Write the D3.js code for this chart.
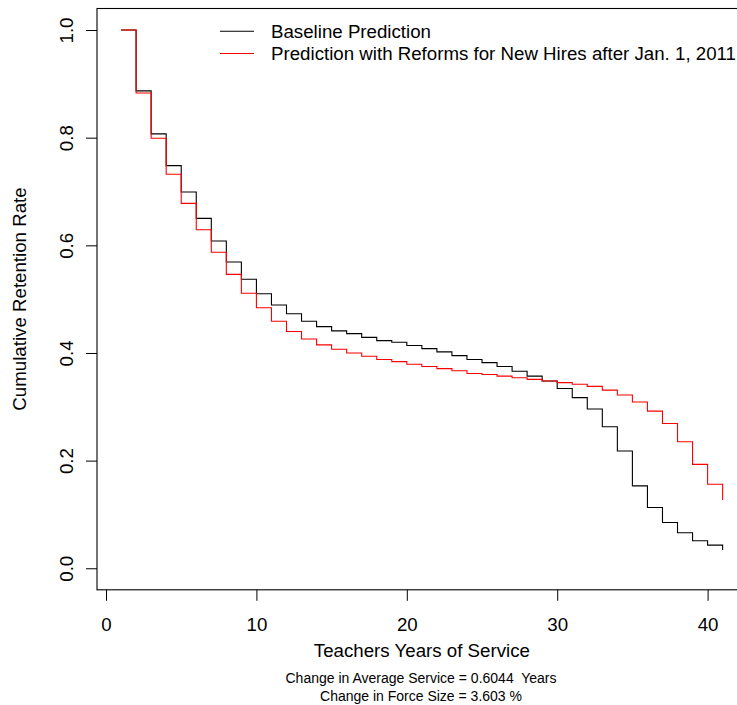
<!DOCTYPE html>
<html>
<head>
<meta charset="utf-8">
<script src="https://cdn.jsdelivr.net/npm/d3@7"></script>
<style>
  body { margin: 0; background: #fff; }
  svg { display: block; font-family: "Liberation Sans", Arial, sans-serif; }
</style>
</head>
<body>
<script>
// Chart data
const years = [1, 2, 3, 4, 5, 6, 7, 8, 9, 10, 11, 12, 13, 14, 15, 16, 17, 18, 19, 20,
  21, 22, 23, 24, 25, 26, 27, 28, 29, 30, 31, 32, 33, 34, 35, 36, 37, 38, 39, 40, 41];
const baseline = [1.000, 0.887, 0.807, 0.748, 0.699, 0.650, 0.608, 0.569, 0.537, 0.510,
  0.489, 0.473, 0.459, 0.449, 0.441, 0.436, 0.429, 0.423, 0.420, 0.414,
  0.408, 0.402, 0.395, 0.388, 0.382, 0.375, 0.366, 0.357, 0.348, 0.334,
  0.317, 0.296, 0.263, 0.218, 0.153, 0.113, 0.085, 0.066, 0.051, 0.043, 0.034];
const reform = [1.000, 0.883, 0.799, 0.732, 0.678, 0.629, 0.587, 0.546, 0.511, 0.484,
  0.459, 0.440, 0.426, 0.415, 0.407, 0.400, 0.394, 0.388, 0.384, 0.379,
  0.375, 0.371, 0.367, 0.362, 0.360, 0.357, 0.354, 0.351, 0.348, 0.345,
  0.342, 0.338, 0.331, 0.322, 0.309, 0.292, 0.269, 0.235, 0.193, 0.156, 0.127];
const xTicks = [0, 10, 20, 30, 40];
const yTicks = [0.0, 0.2, 0.4, 0.6, 0.8, 1.0];
const legendLabels = ["Baseline Prediction", "Prediction with Reforms for New Hires after Jan. 1, 2011"];
const seriesColors = ["#000000", "#ff0000"];
const footnotes = ["Change in Average Service = 0.6044\u00a0 Years", "Change in Force Size = 3.603 %"];

const w = 737;
const h = 705;
const fontMain = 18.7;
const fontFoot = 14;

const svg = d3.select('body')
  .append('svg')
  .attr('width', w)
  .attr('height', h);

// R style ranges: data range padded by 4%
const xScale = d3.scaleLinear()
  .domain([-0.6, 42.6])
  .range([97, 746.7]);

const yScale = d3.scaleLinear()
  .domain([-0.04, 1.04])
  .range([589.8, 8.5]);

// Step lines (type = "s")
const line = d3.line()
  .x((d) => xScale(d[0]))
  .y((d) => yScale(d[1]))
  .curve(d3.curveStepAfter);

[baseline, reform].forEach((series, i) => {
  svg.append('path')
    .datum(years.map((yr, j) => [yr, series[j]]))
    .attr('fill', 'none')
    .attr('stroke', seriesColors[i])
    .attr('stroke-width', 1.1)
    .attr('d', line);
});

// Plot box
svg.append('rect')
  .attr('x', xScale.range()[0])
  .attr('y', yScale.range()[1])
  .attr('width', xScale.range()[1] - xScale.range()[0])
  .attr('height', yScale.range()[0] - yScale.range()[1])
  .attr('fill', 'none')
  .attr('stroke', '#000')
  .attr('stroke-width', 1.1);

// Axes
const xAxis = d3.axisBottom(xScale)
  .tickValues(xTicks)
  .tickFormat(d3.format('d'))
  .tickSize(11);

const yAxis = d3.axisLeft(yScale)
  .tickValues(yTicks)
  .tickFormat(d3.format('.1f'))
  .tickSize(11);

const gx = svg.append('g')
  .attr('transform', 'translate(0,' + yScale.range()[0] + ')')
  .call(xAxis);
gx.select('.domain').remove();
gx.selectAll('text')
  .attr('y', 41.5)
  .attr('dy', 0)
  .attr('font-size', fontMain)
  .attr('font-family', '"Liberation Sans", Arial, sans-serif')
  .attr('fill', '#000');

const gy = svg.append('g')
  .attr('transform', 'translate(' + xScale.range()[0] + ',0)')
  .call(yAxis);
gy.select('.domain').remove();
gy.selectAll('text')
  .attr('transform', 'rotate(-90)')
  .attr('x', 0)
  .attr('y', -24.3)
  .attr('dy', 0)
  .attr('text-anchor', 'middle')
  .attr('font-size', fontMain)
  .attr('font-family', '"Liberation Sans", Arial, sans-serif')
  .attr('fill', '#000');

svg.selectAll('.tick line').attr('stroke', '#000');

// Axis titles
svg.append('text')
  .attr('x', 421.9)
  .attr('y', 657)
  .attr('text-anchor', 'middle')
  .attr('font-size', fontMain)
  .text('Teachers Years of Service');

svg.append('text')
  .attr('transform', 'translate(26,299) rotate(-90)')
  .attr('text-anchor', 'middle')
  .attr('font-size', fontMain)
  .text('Cumulative Retention Rate');

// Footnotes
svg.selectAll('.foot')
  .data(footnotes)
  .enter()
  .append('text')
  .attr('class', 'foot')
  .attr('x', 421)
  .attr('y', (d, i) => 683 + i * 18)
  .attr('text-anchor', 'middle')
  .attr('font-size', fontFoot)
  .text((d) => d);

// Legend
const legend = svg.selectAll('.legend')
  .data(legendLabels)
  .enter()
  .append('g')
  .attr('class', 'legend')
  .attr('transform', (d, i) => 'translate(0,' + (31.2 + i * 22.3) + ')');

legend.append('line')
  .attr('x1', 220)
  .attr('x2', 254)
  .attr('stroke', (d, i) => seriesColors[i])
  .attr('stroke-width', 1.1);

legend.append('text')
  .attr('x', 271)
  .attr('y', 6.5)
  .attr('font-size', fontMain)
  .text((d) => d);
</script>
</body>
</html>
